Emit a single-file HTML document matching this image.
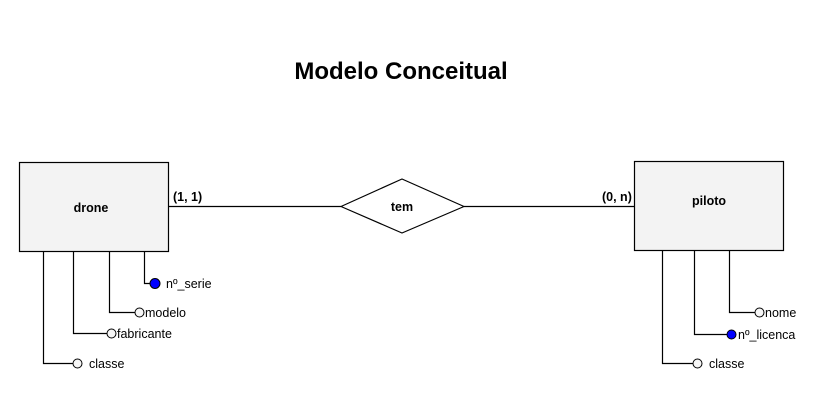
<!DOCTYPE html>
<html><head><meta charset="utf-8"><style>
html,body{margin:0;padding:0;background:#fff;}
svg{display:block;font-family:"Liberation Sans",sans-serif;}
</style></head><body>
<svg width="836" height="408" viewBox="0 0 836 408" xmlns="http://www.w3.org/2000/svg">
<text x="401" y="79" text-anchor="middle" font-size="24" font-weight="bold" fill="#000">Modelo Conceitual</text>
<g stroke="#000" stroke-width="1.2" fill="none">
<rect x="19.5" y="162.5" width="149" height="89" fill="#f3f3f3"/>
<rect x="634.5" y="161.5" width="149" height="89" fill="#f3f3f3"/>
<path d="M168.5 206.5H341M464 206.5H634.5"/>
<path d="M341 206.5L402 179L464 206.5L402 233Z" fill="#fff" stroke-linejoin="round"/>
<path d="M144.5 251.5V283.5H150M109.5 251.5V312.5H135M73.5 251.5V333.5H107M43.5 251.5V363.5H73"/>
<path d="M729.5 250.5V312.5H755M694.5 250.5V334.5H727M662.5 250.5V363.5H693"/>
</g>
<g stroke="#000" stroke-width="1">
<circle cx="155" cy="283.5" r="5" fill="#0000ff"/>
<circle cx="139.5" cy="312.5" r="4.5" fill="#f6f6f6"/>
<circle cx="111.5" cy="333.5" r="4.5" fill="#f6f6f6"/>
<circle cx="77.5" cy="363.5" r="4.5" fill="#f6f6f6"/>
<circle cx="759.5" cy="312.5" r="4.5" fill="#f6f6f6"/>
<circle cx="731.5" cy="334.5" r="4.5" fill="#0000ff"/>
<circle cx="697.5" cy="363.5" r="4.5" fill="#f6f6f6"/>
</g>
<g font-size="12.5" fill="#000">
<text x="91" y="212" text-anchor="middle" font-weight="bold">drone</text>
<text x="709" y="205" text-anchor="middle" font-weight="bold">piloto</text>
<text x="402" y="211" text-anchor="middle" font-weight="bold">tem</text>
<text x="173" y="201" font-weight="bold">(1, 1)</text>
<text x="602" y="201" font-weight="bold">(0, n)</text>
<text x="166" y="288">nº_serie</text>
<text x="145" y="317">modelo</text>
<text x="117" y="338">fabricante</text>
<text x="89" y="368">classe</text>
<text x="765" y="317">nome</text>
<text x="738" y="339">nº_licenca</text>
<text x="709" y="368">classe</text>
</g>
</svg>
</body></html>
